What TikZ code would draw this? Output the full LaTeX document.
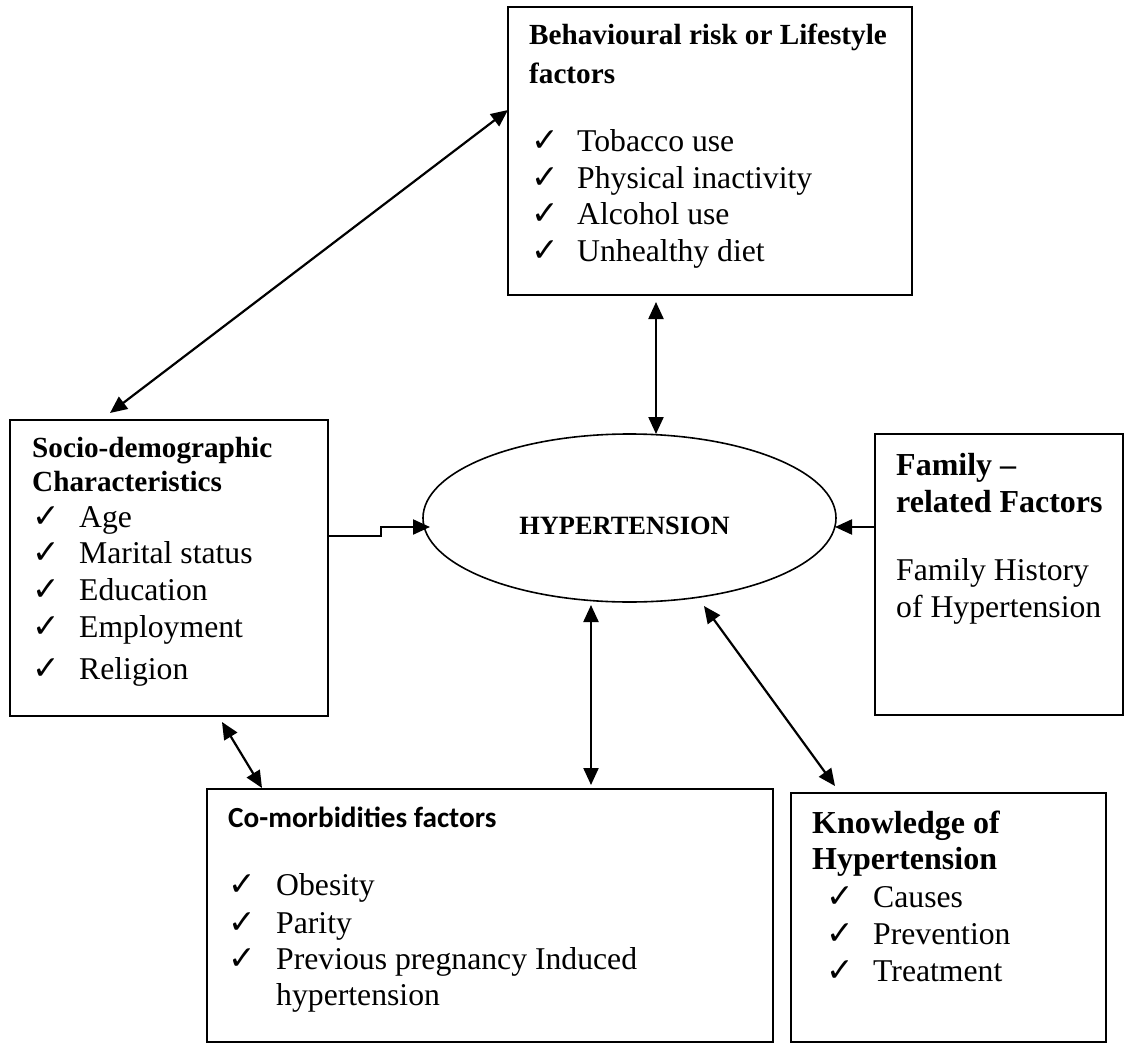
\documentclass[tikz,border=0pt]{standalone}
\usepackage{fontspec}
\setmainfont{Liberation Serif}
\newfontfamily\calibrifont{Carlito}
\newfontfamily\checkfont{DejaVu Sans}
\usetikzlibrary{arrows.meta,calc,shapes.geometric}
\begin{document}
\begin{tikzpicture}[x=1pt,y=-1pt,
 box/.style={draw, line width=1.6pt, anchor=north west, inner sep=0pt, outer sep=0pt},
 body/.style={anchor=base west, inner sep=0pt, font=\fontsize{31.7}{37}\selectfont},
 head/.style={anchor=base west, inner sep=0pt, font=\fontsize{29.2}{36}\selectfont\bfseries},
 headL/.style={anchor=base west, inner sep=0pt, font=\fontsize{32}{37}\selectfont\bfseries},
 chk/.style={anchor=base west, inner sep=0pt, font=\checkfont\fontsize{33}{33}\selectfont},
 tip/.tip={Triangle[length=17pt,width=15pt]},
 link/.style={line width=2.2pt, tip-tip},
 into/.style={line width=2.2pt, -tip}
]
\useasboundingbox (0,0) rectangle (1125,1044);

% boxes
\node[box, minimum width=404pt, minimum height=288pt] (behav) at (508,7) {};
\node[box, minimum width=318pt, minimum height=296pt] (socio) at (10,420) {};
\node[box, minimum width=248pt, minimum height=281pt] (family) at (875,434) {};
\node[box, minimum width=315pt, minimum height=249pt] (know) at (791,793) {};
\node[box, minimum width=566pt, minimum height=253pt] (comorb) at (207,789) {};
\node[draw, ellipse, line width=1.6pt, inner sep=0pt, outer sep=0pt,
      minimum width=413pt, minimum height=168pt] (hyp) at (629.5,518) {};
\node[anchor=base, inner sep=0pt, font=\fontsize{26.4}{30}\selectfont\bfseries] (hyptxt) at (624.5,534) {HYPERTENSION};

% behavioural box text
\node[head] (bh1) at (529,45) {Behavioural risk or Lifestyle};
\node[head] (bh2) at (529,83) {factors};
\node[chk] (bc1) at (531,151) {✓};
\node[body] (bt1) at (577,151) {Tobacco use};
\node[chk] (bc2) at (531,188) {✓};
\node[body] (bt2) at (577,188) {Physical inactivity};
\node[chk] (bc3) at (531,224) {✓};
\node[body] (bt3) at (577,224) {Alcohol use};
\node[chk] (bc4) at (531,261) {✓};
\node[body] (bt4) at (577,261) {Unhealthy diet};

% socio-demographic box text
\node[head] (sh1) at (32,457) {Socio-demographic};
\node[head] (sh2) at (32,491) {Characteristics};
\node[chk] (sc1) at (32,527) {✓};
\node[body] (st1) at (79,527) {Age};
\node[chk] (sc2) at (32,563) {✓};
\node[body] (st2) at (79,563) {Marital status};
\node[chk] (sc3) at (32,600) {✓};
\node[body] (st3) at (79,600) {Education};
\node[chk] (sc4) at (32,637) {✓};
\node[body] (st4) at (79,637) {Employment};
\node[chk] (sc5) at (32,679) {✓};
\node[body] (st5) at (79,679) {Religion};

% family box text
\node[headL] (fh1) at (896,475) {Family –};
\node[headL] (fh2) at (896,512) {related Factors};
\node[body] (ft1) at (896,580) {Family History};
\node[body] (ft2) at (896,617) {of Hypertension};

% knowledge box text
\node[headL] (kh1) at (812,833) {Knowledge of};
\node[headL] (kh2) at (812,869) {Hypertension};
\node[chk] (kc1) at (826,907) {✓};
\node[body] (kt1) at (873,907) {Causes};
\node[chk] (kc2) at (826,944) {✓};
\node[body] (kt2) at (873,944) {Prevention};
\node[chk] (kc3) at (826,981) {✓};
\node[body] (kt3) at (873,981) {Treatment};

% co-morbidities box text
\node[anchor=base west, inner sep=0pt, font=\calibrifont\bfseries\fontsize{29.2}{35}\selectfont] (ch1) at (228,827) {Co-morbidities factors};
\node[chk] (cc1) at (228,895) {✓};
\node[body] (ct1) at (276,895) {Obesity};
\node[chk] (cc2) at (228,933) {✓};
\node[body] (ct2) at (276,933) {Parity};
\node[chk] (cc3) at (228,969) {✓};
\node[body] (ct3) at (276,969) {Previous pregnancy Induced};
\node[body] (ct4) at (276,1005) {hypertension};

% connectors
\draw[link] ($(behav.north west)+(0,103)$) -- ($(socio.north west)+(100,-7)$);
\draw[link] ($(behav.south west)+(148,7)$) -- ($(hyp.north)+(26.5,0)$);
\draw[into] ($(socio.north east)+(0,116)$) -- ++(53,0) -- ++(0,-9) -- ($(hyp.west)+(7,9)$);
\draw[into] ($(family.north west)+(0,93)$) -- ($(hyp.east)+(-1,9)$);
\draw[link] ($(hyp.south)+(-38.5,3)$) -- ($(comorb.north west)+(384,-4)$);
\draw[link] ($(hyp.south)+(74.5,4)$) -- ($(know.north west)+(44,-7)$);
\draw[link] ($(socio.south west)+(212,6)$) -- ($(comorb.north west)+(55,-1)$);
\end{tikzpicture}
\end{document}
